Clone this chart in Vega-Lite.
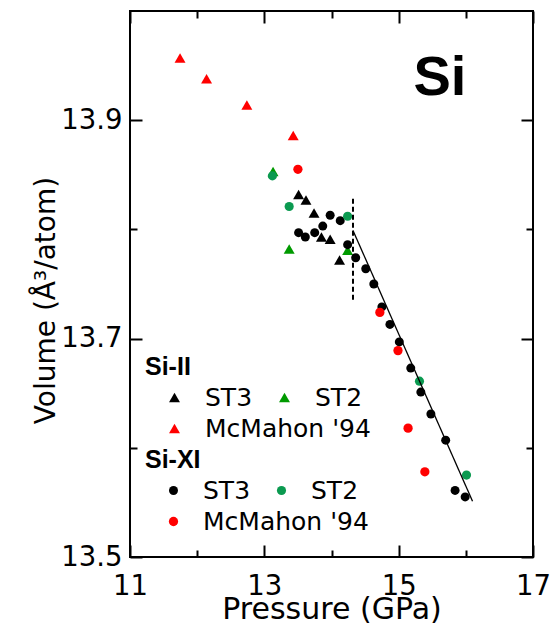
{
  "$schema": "https://vega.github.io/schema/vega-lite/v6.json",
  "width": 403,
  "height": 546,
  "autosize": "none",
  "padding": {"left": 130, "top": 11, "right": 18, "bottom": 72},
  "background": "white",
  "config": {
    "view": {"stroke": "black", "strokeWidth": 2},
    "axis": {"domain": false, "grid": false, "tickColor": "black", "tickWidth": 2, "labelColor": "black", "titleColor": "black", "labelFlush": false, "labelOverlap": false},
    "legend": {"padding": 0, "labelColor": "black", "titleColor": "black"}
  },
  "datasets": {
    "points": [
      {"p": 13.51, "v": 13.832, "phase": "Si-II", "source": "ST3"},
      {"p": 13.62, "v": 13.827, "phase": "Si-II", "source": "ST3"},
      {"p": 13.74, "v": 13.815, "phase": "Si-II", "source": "ST3"},
      {"p": 13.85, "v": 13.793, "phase": "Si-II", "source": "ST3"},
      {"p": 13.98, "v": 13.791, "phase": "Si-II", "source": "ST3"},
      {"p": 14.12, "v": 13.772, "phase": "Si-II", "source": "ST3"},
      {"p": 13.13, "v": 13.853, "phase": "Si-II", "source": "ST2"},
      {"p": 13.37, "v": 13.782, "phase": "Si-II", "source": "ST2"},
      {"p": 14.24, "v": 13.781, "phase": "Si-II", "source": "ST2"},
      {"p": 11.745, "v": 13.957, "phase": "Si-II", "source": "McMahon '94"},
      {"p": 12.14, "v": 13.938, "phase": "Si-II", "source": "McMahon '94"},
      {"p": 12.74, "v": 13.914, "phase": "Si-II", "source": "McMahon '94"},
      {"p": 13.43, "v": 13.886, "phase": "Si-II", "source": "McMahon '94"},
      {"p": 13.51, "v": 13.797, "phase": "Si-XI", "source": "ST3"},
      {"p": 13.61, "v": 13.793, "phase": "Si-XI", "source": "ST3"},
      {"p": 13.75, "v": 13.797, "phase": "Si-XI", "source": "ST3"},
      {"p": 13.87, "v": 13.803, "phase": "Si-XI", "source": "ST3"},
      {"p": 13.98, "v": 13.813, "phase": "Si-XI", "source": "ST3"},
      {"p": 14.13, "v": 13.808, "phase": "Si-XI", "source": "ST3"},
      {"p": 14.24, "v": 13.786, "phase": "Si-XI", "source": "ST3"},
      {"p": 14.36, "v": 13.774, "phase": "Si-XI", "source": "ST3"},
      {"p": 14.51, "v": 13.764, "phase": "Si-XI", "source": "ST3"},
      {"p": 14.63, "v": 13.750, "phase": "Si-XI", "source": "ST3"},
      {"p": 14.75, "v": 13.729, "phase": "Si-XI", "source": "ST3"},
      {"p": 14.87, "v": 13.713, "phase": "Si-XI", "source": "ST3"},
      {"p": 15.01, "v": 13.697, "phase": "Si-XI", "source": "ST3"},
      {"p": 15.18, "v": 13.673, "phase": "Si-XI", "source": "ST3"},
      {"p": 15.33, "v": 13.651, "phase": "Si-XI", "source": "ST3"},
      {"p": 15.48, "v": 13.631, "phase": "Si-XI", "source": "ST3"},
      {"p": 15.70, "v": 13.607, "phase": "Si-XI", "source": "ST3"},
      {"p": 15.84, "v": 13.561, "phase": "Si-XI", "source": "ST3"},
      {"p": 15.99, "v": 13.555, "phase": "Si-XI", "source": "ST3"},
      {"p": 13.50, "v": 13.855, "phase": "Si-XI", "source": "McMahon '94"},
      {"p": 14.72, "v": 13.724, "phase": "Si-XI", "source": "McMahon '94"},
      {"p": 14.99, "v": 13.689, "phase": "Si-XI", "source": "McMahon '94"},
      {"p": 15.14, "v": 13.618, "phase": "Si-XI", "source": "McMahon '94"},
      {"p": 15.39, "v": 13.578, "phase": "Si-XI", "source": "McMahon '94"},
      {"p": 13.12, "v": 13.849, "phase": "Si-XI", "source": "ST2"},
      {"p": 13.37, "v": 13.821, "phase": "Si-XI", "source": "ST2"},
      {"p": 14.24, "v": 13.812, "phase": "Si-XI", "source": "ST2"},
      {"p": 15.31, "v": 13.661, "phase": "Si-XI", "source": "ST2"},
      {"p": 16.01, "v": 13.575, "phase": "Si-XI", "source": "ST2"}
    ],
    "fit": [
      {"p": 14.32, "v": 13.799},
      {"p": 16.10, "v": 13.551}
    ],
    "boundary": [
      {"p": 14.32, "v1": 13.828, "v2": 13.733}
    ],
    "label": [
      {"p": 15.615, "v": 13.923, "text": "Si"}
    ]
  },
  "resolve": {
    "scale": {"color": "independent", "size": "independent"},
    "axis": {"x": "independent", "y": "independent"}
  },
  "layer": [
    {
      "data": {"name": "points"},
      "transform": [{"filter": "datum.phase === 'Si-II'"}],
      "mark": {"type": "point", "shape": "triangle-up", "filled": true, "opacity": 1, "size": 120, "strokeWidth": 0},
      "encoding": {
        "x": {"field": "p", "type": "quantitative", "scale": {"domain": [11, 17], "nice": false, "zero": false},
          "axis": {"orient": "bottom", "values": [11, 13, 15, 17], "tickSize": -12, "labelPadding": 27, "labelFont": "DejaVu Sans", "labelFontSize": 27.5,
            "title": "Pressure (GPa)", "titleFont": "DejaVu Sans", "titleFontSize": 30, "titleFontWeight": "normal", "titleBaseline": "alphabetic", "titleY": 61}},
        "y": {"field": "v", "type": "quantitative", "scale": {"domain": [13.5, 14.0], "nice": false, "zero": false},
          "axis": {"orient": "left", "values": [13.5, 13.7, 13.9], "format": ".1f", "tickSize": -12, "labelPadding": 20, "labelFont": "DejaVu Sans", "labelFontSize": 27.5,
            "title": "Volume (Å³/atom)", "titleFont": "DejaVu Sans", "titleFontSize": 28, "titleFontWeight": "normal", "titleAngle": 270, "titleBaseline": "middle", "titleX": -84, "titleY": 289}},
        "color": {"field": "source", "type": "nominal",
          "scale": {"domain": ["ST3", "ST2", "McMahon '94"], "range": ["#000000", "#009a00", "#ff0000"]},
          "legend": {"title": "Si-II", "orient": "none", "legendX": 15, "legendY": 344, "direction": "horizontal", "columns": 2, "gridAlign": "none",
            "symbolType": "triangle-up", "symbolSize": 120, "symbolStrokeWidth": 0, "symbolOffset": 17, "labelOffset": 18, "columnPadding": -116, "rowPadding": 5,
            "labelFont": "DejaVu Sans", "labelFontSize": 25, "labelLimit": 400,
            "titleFont": "Liberation Sans", "titleFontSize": 25, "titleFontWeight": "bold", "titlePadding": 5}}
      }
    },
    {
      "data": {"name": "points"},
      "transform": [{"filter": "datum.phase === 'Si-XI'"}],
      "mark": {"type": "point", "shape": "circle", "filled": true, "opacity": 1, "strokeWidth": 0},
      "encoding": {
        "x": {"field": "p", "type": "quantitative", "scale": {"domain": [11, 17], "nice": false, "zero": false},
          "axis": {"orient": "bottom", "values": [12, 14, 16], "tickSize": -7, "labels": false, "title": null}},
        "y": {"field": "v", "type": "quantitative", "scale": {"domain": [13.5, 14.0], "nice": false, "zero": false},
          "axis": {"orient": "left", "values": [13.6, 13.8], "tickSize": -7, "labels": false, "title": null}},
        "color": {"field": "source", "type": "nominal",
          "scale": {"domain": ["ST3", "ST2", "McMahon '94"], "range": ["#000000", "#0b9a50", "#ff0000"]},
          "legend": {"title": "Si-XI", "orient": "none", "legendX": 15, "legendY": 437, "direction": "horizontal", "columns": 2, "gridAlign": "none",
            "symbolType": "circle", "symbolStrokeWidth": 0, "symbolOffset": 16, "labelOffset": 17, "columnPadding": -116, "rowPadding": 5,
            "labelFont": "DejaVu Sans", "labelFontSize": 25, "labelLimit": 400,
            "titleFont": "Liberation Sans", "titleFontSize": 25, "titleFontWeight": "bold", "titlePadding": 5}},
        "size": {"field": "source", "type": "ordinal",
          "scale": {"domain": ["ST3", "ST2", "McMahon '94"], "range": [81, 86, 144]}}
      }
    },
    {
      "data": {"name": "fit"},
      "mark": {"type": "line", "color": "black", "strokeWidth": 1.3},
      "encoding": {
        "x": {"field": "p", "type": "quantitative", "scale": {"domain": [11, 17], "nice": false, "zero": false},
          "axis": {"orient": "top", "values": [11, 13, 15, 17], "tickSize": -12, "labels": false, "title": null}},
        "y": {"field": "v", "type": "quantitative", "scale": {"domain": [13.5, 14.0], "nice": false, "zero": false},
          "axis": {"orient": "right", "values": [13.5, 13.7, 13.9], "tickSize": -12, "labels": false, "title": null}}
      }
    },
    {
      "data": {"name": "boundary"},
      "mark": {"type": "rule", "color": "black", "strokeWidth": 2, "strokeDash": [5, 3]},
      "encoding": {
        "x": {"field": "p", "type": "quantitative", "scale": {"domain": [11, 17], "nice": false, "zero": false},
          "axis": {"orient": "top", "values": [12, 14, 16], "tickSize": -7, "labels": false, "title": null}},
        "y": {"field": "v1", "type": "quantitative", "scale": {"domain": [13.5, 14.0], "nice": false, "zero": false},
          "axis": {"orient": "right", "values": [13.6, 13.8], "tickSize": -7, "labels": false, "title": null}},
        "y2": {"field": "v2"}
      }
    },
    {
      "data": {"name": "label"},
      "mark": {"type": "text", "font": "Liberation Sans", "fontWeight": "bold", "fontSize": 56, "align": "center", "baseline": "alphabetic", "color": "black"},
      "encoding": {
        "x": {"field": "p", "type": "quantitative", "scale": {"domain": [11, 17], "nice": false, "zero": false}, "axis": null},
        "y": {"field": "v", "type": "quantitative", "scale": {"domain": [13.5, 14.0], "nice": false, "zero": false}, "axis": null},
        "text": {"field": "text"}
      }
    }
  ]
}
